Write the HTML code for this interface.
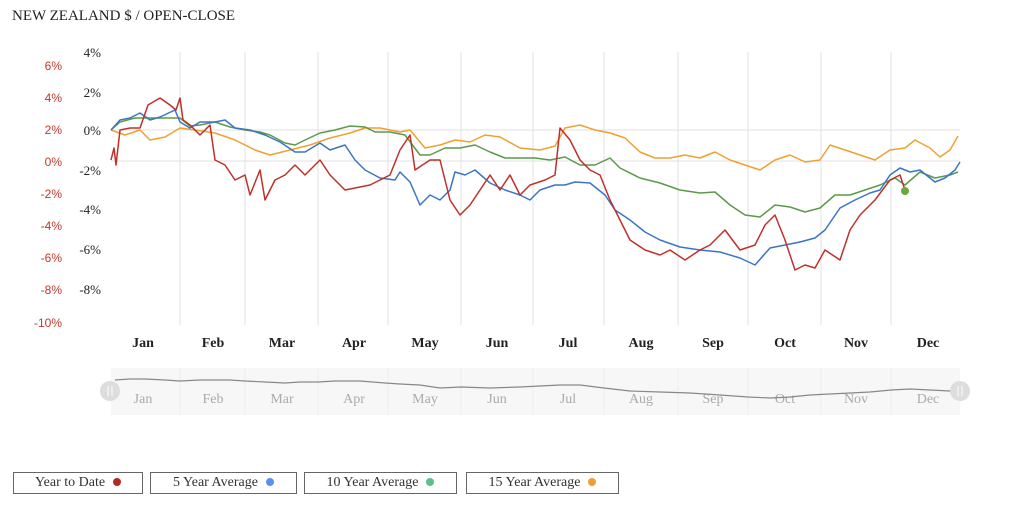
<!DOCTYPE html>
<html><head><meta charset="utf-8"><style>
body{margin:0;background:#fff;width:1024px;height:505px;overflow:hidden}
.lg{position:absolute;top:472px;height:22px;border:1.5px solid #666;box-sizing:border-box;font:14px "Liberation Serif",serif;color:#333;text-align:center;line-height:20px}
.d{display:inline-block;width:8px;height:8px;border-radius:50%;margin-left:8px}
</style></head><body>
<svg width="1024" height="505" style="position:absolute;left:0;top:0">
<text x="12" y="20" font-family="Liberation Serif,serif" font-size="15" fill="#222">NEW ZEALAND $ / OPEN-CLOSE</text>
<g stroke="#e2e2e2" stroke-width="1">
<line x1="180" y1="52" x2="180" y2="325"/><line x1="245" y1="52" x2="245" y2="325"/><line x1="318" y1="52" x2="318" y2="325"/><line x1="388" y1="52" x2="388" y2="325"/><line x1="461" y1="52" x2="461" y2="325"/><line x1="533" y1="52" x2="533" y2="325"/><line x1="604" y1="52" x2="604" y2="325"/><line x1="678" y1="52" x2="678" y2="325"/><line x1="748" y1="52" x2="748" y2="325"/><line x1="821" y1="52" x2="821" y2="325"/><line x1="891" y1="52" x2="891" y2="325"/>
<line x1="111" y1="130" x2="960" y2="130"/><line x1="111" y1="161" x2="960" y2="161"/>
</g>
<g font-family="Liberation Serif,serif" font-size="13" fill="#222" text-anchor="end">
<text x="101" y="57">4%</text><text x="101" y="97">2%</text><text x="101" y="135">0%</text><text x="101" y="175">-2%</text><text x="101" y="214">-4%</text><text x="101" y="254">-6%</text><text x="101" y="294">-8%</text>
</g>
<g font-family="Liberation Sans,sans-serif" font-size="12" fill="#c0392b" text-anchor="end">
<text x="62" y="70">6%</text><text x="62" y="102">4%</text><text x="62" y="134">2%</text><text x="62" y="166">0%</text><text x="62" y="198">-2%</text><text x="62" y="230">-4%</text><text x="62" y="262">-6%</text><text x="62" y="294">-8%</text><text x="62" y="327">-10%</text>
</g>
<g font-family="Liberation Serif,serif" font-size="14" font-weight="bold" fill="#222" text-anchor="middle">
<text x="143" y="347">Jan</text><text x="213" y="347">Feb</text><text x="282" y="347">Mar</text><text x="354" y="347">Apr</text><text x="425" y="347">May</text><text x="497" y="347">Jun</text><text x="568" y="347">Jul</text><text x="641" y="347">Aug</text><text x="713" y="347">Sep</text><text x="785" y="347">Oct</text><text x="856" y="347">Nov</text><text x="928" y="347">Dec</text>
</g>
<g fill="none" stroke-width="1.5" stroke-linejoin="round">
<polyline stroke="#f0a030" points="111,130 125,135 140,130 150,140 165,137 180,128 195,130 215,133 235,140 255,150 270,155 290,150 310,145 330,138 350,133 365,128 380,128 400,132 410,130 425,148 440,145 455,140 470,142 485,135 500,137 520,148 540,150 555,146 565,128 580,125 595,130 610,133 625,138 640,152 655,158 670,158 685,155 700,158 715,152 730,160 745,165 760,170 775,160 790,155 805,162 820,160 830,145 845,150 860,155 875,160 890,150 905,148 915,140 930,148 940,157 950,150 958,136"/>
<polyline stroke="#5a9a4a" points="111,130 120,122 135,118 150,118 165,118 180,118 190,126 200,125 215,122 230,127 245,130 260,132 270,135 285,143 295,145 305,140 320,133 335,130 350,126 365,127 375,132 390,132 405,135 420,155 430,155 445,148 460,148 475,145 490,152 505,158 520,158 535,158 550,160 565,157 580,165 595,165 610,158 620,168 640,178 660,183 680,190 700,193 715,192 730,205 745,215 760,217 775,205 790,207 805,212 820,208 835,195 850,195 865,190 880,185 895,178 905,185 920,172 935,178 950,175 958,172"/>
<polyline stroke="#3a75c4" points="111,130 120,120 130,118 140,113 150,120 160,117 175,110 180,122 190,128 200,122 215,122 225,120 235,128 250,130 265,135 280,142 295,152 305,152 320,143 330,150 345,145 355,160 365,170 380,178 395,180 400,172 410,182 420,205 430,195 440,200 450,190 455,172 465,175 475,170 490,183 505,190 520,195 530,200 540,190 555,185 565,185 575,182 590,183 605,195 615,210 630,220 645,232 660,240 680,247 700,250 720,252 740,258 755,265 770,248 785,245 800,242 815,238 825,230 840,208 855,200 870,193 880,190 890,175 900,168 910,172 920,170 935,182 945,178 955,170 960,162"/>
<polyline stroke="#c0302a" points="111,160 114,148 116,165 120,130 130,128 140,128 148,105 160,98 170,105 176,110 180,98 183,120 190,125 200,135 210,125 215,160 225,165 235,180 245,175 250,195 260,170 265,200 275,180 285,175 295,165 305,175 320,160 330,175 345,190 355,188 370,185 380,180 390,175 400,150 410,135 415,170 430,160 440,160 450,200 460,215 470,205 480,190 490,175 500,190 510,175 520,195 530,185 545,180 555,175 560,128 570,140 580,160 590,170 600,175 610,200 620,220 630,240 645,250 660,255 670,250 685,260 700,250 710,245 725,230 740,250 755,245 765,225 775,215 785,240 795,270 805,265 815,268 825,250 840,260 850,230 860,215 875,200 890,180 900,175 905,190"/>
</g>
<circle cx="905" cy="191" r="4" fill="#6aaa3a"/>
<rect x="111" y="368" width="849" height="47" fill="#f7f7f7"/>
<g stroke="#ececec"><line x1="180" y1="368" x2="180" y2="415"/><line x1="245" y1="368" x2="245" y2="415"/><line x1="318" y1="368" x2="318" y2="415"/><line x1="388" y1="368" x2="388" y2="415"/><line x1="461" y1="368" x2="461" y2="415"/><line x1="533" y1="368" x2="533" y2="415"/><line x1="604" y1="368" x2="604" y2="415"/><line x1="678" y1="368" x2="678" y2="415"/><line x1="748" y1="368" x2="748" y2="415"/><line x1="821" y1="368" x2="821" y2="415"/><line x1="891" y1="368" x2="891" y2="415"/></g>
<g font-family="Liberation Serif,serif" font-size="14" fill="#aaa" text-anchor="middle">
<text x="143" y="403">Jan</text><text x="213" y="403">Feb</text><text x="282" y="403">Mar</text><text x="354" y="403">Apr</text><text x="425" y="403">May</text><text x="497" y="403">Jun</text><text x="568" y="403">Jul</text><text x="641" y="403">Aug</text><text x="713" y="403">Sep</text><text x="785" y="403">Oct</text><text x="856" y="403">Nov</text><text x="928" y="403">Dec</text>
</g>
<polyline fill="none" stroke="#888" stroke-width="1.2" points="115,380 130,379 145,379 165,380 180,381 200,380 230,380 245,381 265,382 285,383 300,382 318,382 335,381 360,381 385,383 400,384 420,385 440,388 461,387 490,388 520,387 540,386 560,385 580,385 604,388 630,391 660,392 690,393 720,395 748,397 770,398 790,397 810,395 830,394 850,393 870,392 891,390 910,389 930,390 950,391 958,390"/>
<circle cx="110" cy="391" r="10" fill="#ddd"/><circle cx="960" cy="391" r="10" fill="#ddd"/>
<g stroke="#fff" stroke-width="1"><line x1="108" y1="386" x2="108" y2="396"/><line x1="112" y1="386" x2="112" y2="396"/><line x1="958" y1="386" x2="958" y2="396"/><line x1="962" y1="386" x2="962" y2="396"/></g>
</svg>
<div class="lg" style="left:13px;width:130px">Year to Date<span class="d" style="background:#b22a22"></span></div>
<div class="lg" style="left:150px;width:147px">5 Year Average<span class="d" style="background:#5b8ff0"></span></div>
<div class="lg" style="left:304px;width:153px">10 Year Average<span class="d" style="background:#5cc08a"></span></div>
<div class="lg" style="left:466px;width:153px">15 Year Average<span class="d" style="background:#f0a030"></span></div>
</body></html>
